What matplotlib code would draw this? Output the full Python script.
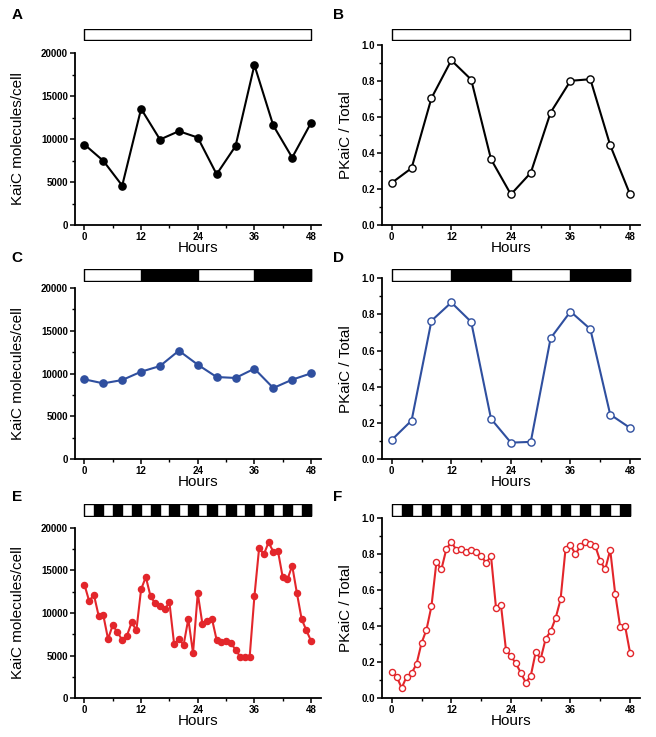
import numpy as np
import matplotlib.pyplot as plt
from matplotlib.ticker import MultipleLocator

plt.rcParams['font.family'] = ['Liberation Sans', 'DejaVu Sans']

# ---- data ----
hours_4h = [0, 4, 8, 12, 16, 20, 24, 28, 32, 36, 40, 44, 48]
hours_1h = list(range(49))

# A: KaiC, constant light
kaic_LL = [9360, 7460, 4580, 13510, 9940, 10910, 10170, 5900, 9170, 18600, 11570, 7840, 11880]
# B: PKaiC / total, constant light
pkaic_LL = [0.234, 0.316, 0.705, 0.915, 0.808, 0.365, 0.170, 0.290, 0.625, 0.801, 0.810, 0.443, 0.170]
# C: KaiC, LD 12:12
kaic_LD12 = [9320, 8850, 9240, 10210, 10870, 12660, 11030, 9590, 9480, 10560, 8310, 9280, 10020]
# D: PKaiC / total, LD 12:12
pkaic_LD12 = [0.107, 0.214, 0.764, 0.865, 0.758, 0.223, 0.092, 0.096, 0.668, 0.815, 0.718, 0.247, 0.173]
# E: KaiC, LD 2:2 (hourly)
kaic_LD2 = [13320, 11400, 12150, 9690, 9730, 6950, 8590, 7730, 6840, 7340,
            8900, 7970, 12770, 14220, 11950, 11130, 10820, 10430, 11250, 6330,
            6990, 6250, 9300, 5310, 12300, 8670, 9020, 9340, 6840, 6560,
            6720, 6480, 5700, 4880, 4800, 4880, 11950, 17620, 16870, 18280,
            17190, 17230, 14180, 13940, 15550, 12340, 9300, 7970, 6720]
# F: PKaiC / total, LD 2:2 (hourly)
pkaic_LD2 = [0.144, 0.120, 0.057, 0.120, 0.139, 0.191, 0.306, 0.381, 0.511, 0.756,
             0.715, 0.828, 0.867, 0.824, 0.828, 0.809, 0.822, 0.809, 0.789, 0.752,
             0.787, 0.502, 0.517, 0.270, 0.233, 0.194, 0.141, 0.087, 0.124, 0.257,
             0.219, 0.330, 0.372, 0.444, 0.548, 0.828, 0.848, 0.800, 0.843, 0.869,
             0.857, 0.844, 0.761, 0.715, 0.824, 0.580, 0.398, 0.400, 0.252]

# dark periods (start, duration) in hours
dark_LL = []
dark_LD12 = [(12, 12), (36, 12)]
dark_LD2 = [(h, 2) for h in range(2, 48, 4)]

BLUE = '#2f4f9f'
RED = '#e3262b'

W, H = 656, 737
fig = plt.figure(figsize=(W / 100, H / 100), dpi=100)


def px_axes(left, right, top, bottom):
    """像素坐标 -> figure 坐标"""
    return fig.add_axes([left / W, 1 - bottom / H, (right - left) / W, (bottom - top) / H])


def style_axes(ax, ymax, ystep, ylabel, label_x, fmt=None):
    ax.set_xlim(-2, 50)
    ax.set_ylim(0, ymax)
    ax.spines['top'].set_visible(False)
    ax.spines['right'].set_visible(False)
    for s in ('left', 'bottom'):
        ax.spines[s].set_linewidth(1.3)
    ax.xaxis.set_major_locator(MultipleLocator(12))
    ax.xaxis.set_minor_locator(MultipleLocator(6))
    ax.yaxis.set_major_locator(MultipleLocator(ystep))
    ax.yaxis.set_minor_locator(MultipleLocator(ystep / 2))
    if fmt:
        ax.yaxis.set_major_formatter(plt.FormatStrFormatter(fmt))
    ax.tick_params(which='major', direction='out', length=3.5, width=1.1, pad=1.5, labelsize=7)
    ax.tick_params(which='minor', direction='out', length=2, width=1.0)
    for lab in ax.get_xticklabels() + ax.get_yticklabels():
        lab.set_fontweight('bold')
    ax.set_xlabel('Hours', fontsize=11, labelpad=-1)
    ax.set_ylabel(ylabel, fontsize=11)
    ax.yaxis.set_label_coords(label_x, 0.5)


def light_bar(left, right, top, bottom, darks):
    bx = px_axes(left, right, top, bottom)
    bx.set_xlim(-2, 50)
    bx.set_ylim(0, 1)
    bx.axis('off')
    bx.broken_barh([(0, 48)], (0, 1), facecolor='white', edgecolor='black', linewidth=1.0)
    if darks:
        bx.broken_barh(darks, (0, 1), facecolor='black', edgecolor='black', linewidth=1.0)
    return bx


# column geometry (pixels)
L_left, L_right = 75, 320.5
R_left, R_right = 381.8, 640

rows = [
    # (top_left, top_right, bottom, bar_top, bar_bottom, darks)
    (53, 45, 225, 29, 40, dark_LL),
    (287.7, 278, 459.3, 269, 281, dark_LD12),
    (527.7, 518, 698.3, 504, 516, dark_LD2),
]
kaic_sets = [kaic_LL, kaic_LD12, kaic_LD2]
pkaic_sets = [pkaic_LL, pkaic_LD12, pkaic_LD2]
x_sets = [hours_4h, hours_4h, hours_1h]
colors = ['black', BLUE, RED]
msizes = [5.2, 5.2, 4.4]
letters = [('A', 'B', 15), ('C', 'D', 258), ('E', 'F', 497)]

for i, (tl, tr, bot, bt, bb, darks) in enumerate(rows):
    c = colors[i]
    x = x_sets[i]

    axl = px_axes(L_left, L_right, tl, bot)
    axl.plot(x, kaic_sets[i], '-o', color=c, lw=1.5, ms=msizes[i],
             mfc=c, mec=c, clip_on=False, zorder=3)
    style_axes(axl, 20000, 5000, 'KaiC molecules/cell', -0.205)
    light_bar(L_left, L_right, bt, bb, darks)

    axr = px_axes(R_left, R_right, tr, bot)
    axr.plot(x, pkaic_sets[i], '-o', color=c, lw=1.5, ms=msizes[i],
             mfc='white', mec=c, mew=1.0, clip_on=False, zorder=3)
    style_axes(axr, 1.0, 0.2, 'PKaiC / Total', -0.11, fmt='%.1f')
    light_bar(R_left, R_right, bt, bb, darks)

    la, lb, ly = letters[i]
    fig.text(17 / W, 1 - ly / H, la, fontsize=11, fontweight='bold', ha='center', va='center')
    fig.text(338 / W, 1 - ly / H, lb, fontsize=11, fontweight='bold', ha='center', va='center')

fig.savefig('out.png', dpi=100)
